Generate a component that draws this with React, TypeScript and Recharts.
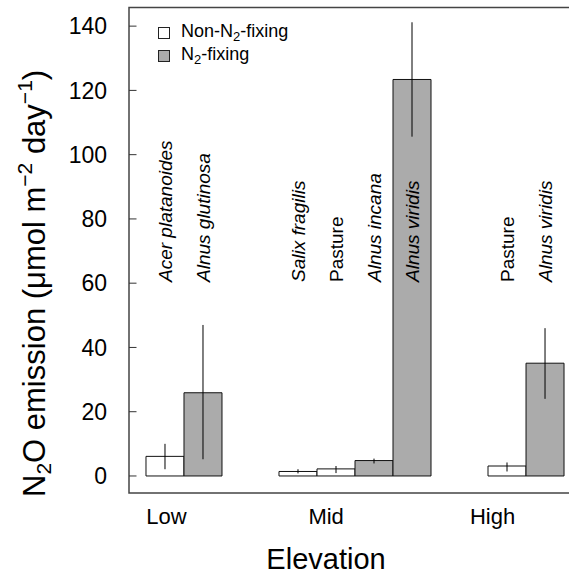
import React from "react";
import {
  BarChart,
  Bar,
  XAxis,
  YAxis,
  Cell,
  ErrorBar,
  LabelList,
  ReferenceArea,
  Legend,
} from "recharts";

// ---- data ----
const elevationCategories = ["Low", "Mid", "High"];
const elevationTickSlots = [0.54, 4.74, 9.12];

const speciesLabels = [
  "Acer platanoides",
  "Alnus glutinosa",
  "Salix fragilis",
  "Pasture",
  "Alnus incana",
  "Alnus viridis",
  "Pasture",
  "Alnus viridis",
];
const barSlots = [0.5, 1.5, 4, 5, 6, 7, 9.5, 10.5];
const nFixing = [false, true, false, false, true, true, false, true];
const meanEmission = [6.1, 25.9, 1.4, 2.2, 4.8, 123.4, 3.1, 35.1];
const errLower = [2.1, 5.2, 0.8, 0.9, 3.9, 105.6, 1.4, 24.0];
const errUpper = [10.0, 47.0, 2.1, 3.1, 5.4, 141.2, 4.2, 46.0];
const yTicks = [0, 20, 40, 60, 80, 100, 120, 140];

const legendItems = [
  { key: "non", pre: "Non-N", post: "-fixing", fill: "#FFFFFF" },
  { key: "fix", pre: "N", post: "-fixing", fill: "#ABABAB" },
];

const X_DOMAIN: [number, number] = [-0.447, 11.21];
const Y_DOMAIN: [number, number] = [-5.3, 145.8];
const FONT = "'Liberation Sans', Arial, Helvetica, sans-serif";
const GRAY = "#ABABAB";

const tableData = speciesLabels.map((label, i) => ({
  label,
  slot: barSlots[i],
  value: meanEmission[i],
  err: [meanEmission[i] - errLower[i], errUpper[i] - meanEmission[i]],
  fixing: nFixing[i],
}));

const YTick = (props: any) => {
  const { x, y, payload } = props;
  return (
    <g>
      <line x1={x} y1={y} x2={x + 7.5} y2={y} stroke="#333" strokeWidth={1} />
      <text
        x={x - 22}
        y={y}
        dy={8.3}
        textAnchor="end"
        fontSize={23}
        fontFamily={FONT}
        fill="#000"
      >
        {payload.value}
      </text>
    </g>
  );
};

const XTick = (props: any) => {
  const { x, y, payload } = props;
  const idx = elevationTickSlots.indexOf(payload.value);
  return (
    <text
      x={x}
      y={y}
      dy={31}
      textAnchor="middle"
      fontSize={22}
      fontFamily={FONT}
      fill="#000"
    >
      {idx >= 0 ? elevationCategories[idx] : ""}
    </text>
  );
};

const YLabel = (props: any) => {
  const cx = 45;
  const startY = 497;
  return (
    <text
      x={cx}
      y={startY}
      transform={`rotate(-90 ${cx} ${startY})`}
      textAnchor="start"
      fontSize={31}
      fontFamily={FONT}
      fill="#000"
    >
      <tspan>N</tspan>
      <tspan fontSize={21} dy={6}>2</tspan>
      <tspan dy={-6}>O emission (μmol m</tspan>
      <tspan fontSize={21} dy={-13}>−2</tspan>
      <tspan dy={13}>{"\u00A0day"}</tspan>
      <tspan fontSize={21} dy={-13}>−1</tspan>
      <tspan dy={13}>)</tspan>
    </text>
  );
};

const XLabel = (props: any) => {
  const vb = props.viewBox || { x: 0, y: 0, width: 0, height: 0 };
  return (
    <text
      x={vb.x + 197}
      y={vb.y + 76}
      textAnchor="middle"
      fontSize={29}
      fontFamily={FONT}
      fill="#000"
    >
      Elevation
    </text>
  );
};

const SpeciesLabel = (props: any) => {
  const { x, y, width, height, value } = props;
  const cx = x + width / 2 + 7;
  const base = y + height - 194;
  const italic = value !== "Pasture";
  return (
    <text
      x={cx}
      y={base}
      transform={`rotate(-90 ${cx} ${base})`}
      textAnchor="start"
      fontSize={19}
      fontStyle={italic ? "italic" : "normal"}
      fontFamily={FONT}
      fill="#000"
    >
      {value}
    </text>
  );
};

const LegendContent = () => (
  <div style={{ fontFamily: FONT, fontSize: 18, color: "#000" }}>
    {legendItems.map((it) => (
      <div
        key={it.key}
        style={{ display: "flex", alignItems: "center", height: 23, whiteSpace: "nowrap" }}
      >
        <span
          style={{
            display: "inline-block",
            width: 10,
            height: 10,
            border: "1px solid #222",
            background: it.fill,
            marginRight: 11,
            marginTop: 3,
          }}
        />
        <span>
          {it.pre}
          <span style={{ fontSize: 13, position: "relative", top: 4 }}>2</span>
          {it.post}
        </span>
      </div>
    ))}
  </div>
);

export default function App() {
  return (
    <div
      style={{
        position: "absolute",
        left: 0,
        top: 0,
        width: 569,
        height: 575,
        overflow: "hidden",
        background: "#fff",
      }}
    >
      <BarChart
        width={580}
        height={575}
        data={tableData}
        margin={{ top: 7.5, right: 8, bottom: 0, left: 0 }}
      >
        <ReferenceArea
          x1={X_DOMAIN[0]}
          x2={X_DOMAIN[1]}
          y1={Y_DOMAIN[0]}
          y2={Y_DOMAIN[1]}
          fill="none"
          stroke="#444"
          strokeWidth={1.5}
          ifOverflow="visible"
        />
        <XAxis
          type="number"
          dataKey="slot"
          domain={X_DOMAIN}
          ticks={elevationTickSlots}
          interval={0}
          allowDataOverflow
          axisLine={false}
          tickLine={false}
          tickSize={0}
          tickMargin={0}
          height={82}
          tick={<XTick />}
          label={<XLabel />}
        />
        <YAxis
          type="number"
          domain={Y_DOMAIN}
          ticks={yTicks}
          interval={0}
          allowDataOverflow
          axisLine={false}
          tickLine={false}
          tickSize={0}
          tickMargin={0}
          width={129}
          tick={<YTick />}
          label={<YLabel />}
        />
        <Legend
          layout="vertical"
          align="center"
          verticalAlign="middle"
          content={<LegendContent />}
          wrapperStyle={{ left: 158, top: 20, width: "auto", height: "auto" }}
        />
        <Bar
          dataKey="value"
          barSize={38}
          stroke="#111"
          strokeWidth={1}
          isAnimationActive={false}
        >
          {tableData.map((d, i) => (
            <Cell key={i} fill={d.fixing ? GRAY : "#FFFFFF"} />
          ))}
          <ErrorBar
            dataKey="err"
            direction="y"
            width={0}
            stroke="#000"
            strokeWidth={1}
            isAnimationActive={false}
          />
          <LabelList dataKey="label" content={<SpeciesLabel />} />
        </Bar>
      </BarChart>
    </div>
  );
}
